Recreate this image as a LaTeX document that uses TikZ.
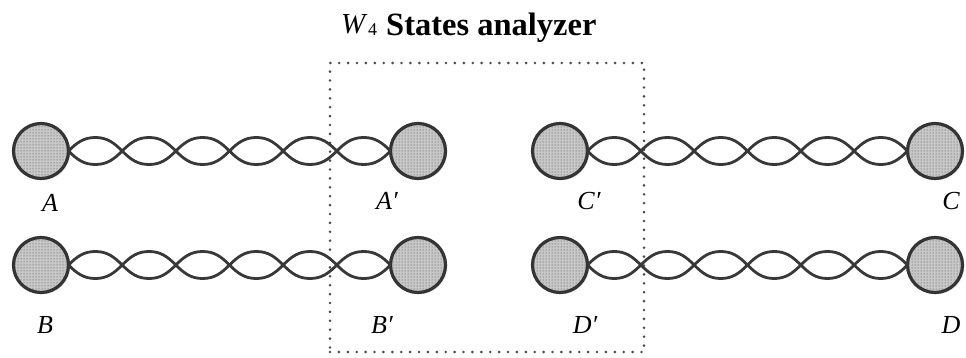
\documentclass[tikz,border=0pt]{standalone}
\usepackage{fontspec}
\setmainfont{Liberation Serif}
\usetikzlibrary{calc,patterns,shadows}
\def\pairamp{13.5pt}
\def\xa{45}
\newcommand\lobesA{%
  to[out=-\xa,in=180] ++(\n1,-\pairamp) to[out=0,in=180+\xa] ++(\n1,\pairamp)
  to[out=\xa,in=180] ++(\n1,\pairamp) to[out=0,in=180-\xa] ++(\n1,-\pairamp)}
\newcommand\lobesB{%
  to[out=\xa,in=180] ++(\n1,\pairamp) to[out=0,in=180-\xa] ++(\n1,-\pairamp)
  to[out=-\xa,in=180] ++(\n1,-\pairamp) to[out=0,in=180+\xa] ++(\n1,\pairamp)}
\newcommand\twistpair[2]{%
  \draw[pairline] let \p1=(#1.east), \p2=(#2.west), \n1={(\x2-\x1)/12} in
    (\p1) \lobesA \lobesA \lobesA
    (\p1) \lobesB \lobesB \lobesB;}
\tikzset{
  port/.style={circle, draw=black!80, line width=3.2pt, minimum size=55pt, inner sep=0pt,
    outer sep=0pt, fill=black!22, postaction={pattern=dots, pattern color=black!70},
    drop shadow={opacity=0.18, shadow xshift=1.8pt, shadow yshift=-1.8pt}},
  pairline/.style={draw=black!78, line width=2.8pt},
  lbl/.style={font=\fontsize{26}{26}\selectfont\itshape, inner sep=0pt},
  framebox/.style={draw=black!70, line width=2.9pt, dash pattern=on 0pt off 8.9pt,
    line cap=round, minimum width=314pt, minimum height=289pt, inner sep=0pt},
  ttl/.style={inner sep=0pt, anchor=base west}
}
\begin{document}
\begin{tikzpicture}[x=1pt,y=-1pt]
\useasboundingbox (0,0) rectangle (966,358);
% title
\node[ttl, font=\fontsize{29}{29}\selectfont\itshape] (tW) at (341,34) {W};
\node[ttl, font=\fontsize{18}{18}\selectfont] (t4) at (368,36) {4};
\node[ttl, font=\fontsize{32.5}{32.5}\selectfont\bfseries] (tS) at (386,36) {States analyzer};
% analyzer frame
\node[framebox] (frame) at (487,207.5) {};
% ports
\node[port] (A)  at (41,151) {};
\node[port] (Ap) at (418,151) {};
\node[port] (Cp) at (560,151) {};
\node[port] (C)  at (935,151) {};
\node[port] (B)  at (41,265) {};
\node[port] (Bp) at (418,265) {};
\node[port] (Dp) at (560,265) {};
\node[port] (D)  at (935,265) {};
% twisted pairs
\twistpair{A}{Ap}
\twistpair{Cp}{C}
\twistpair{B}{Bp}
\twistpair{Dp}{D}
% labels
\node[lbl] (lA)  at (50,203) {A};
\node[lbl] (lAp) at (387,201) {A′};
\node[lbl] (lCp) at (589,201) {C′};
\node[lbl] (lC)  at (951,201) {C};
\node[lbl] (lB)  at (45,325) {B};
\node[lbl] (lBp) at (382,325) {B′};
\node[lbl] (lDp) at (585,325) {D′};
\node[lbl] (lD)  at (951,325) {D};
\end{tikzpicture}
\end{document}
